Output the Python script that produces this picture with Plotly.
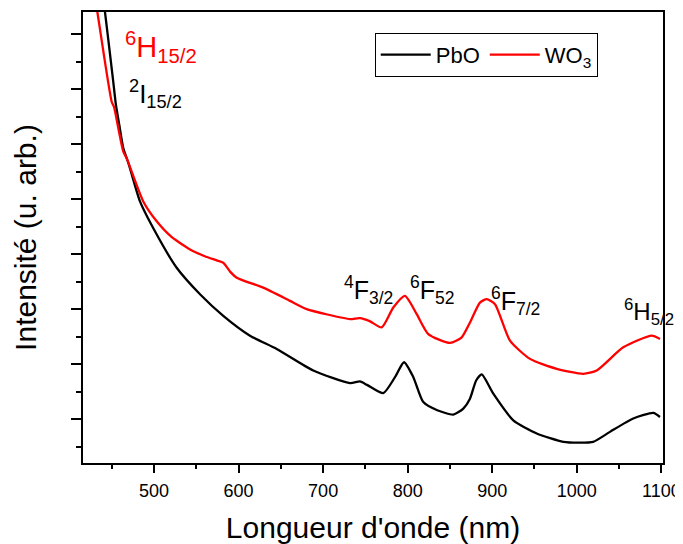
import plotly.graph_objects as go

# Wavelength (nm) and intensity (arbitrary units)
pbo_nm = [440, 442, 451.8, 455, 459, 463.7, 470, 483.4, 503.2, 526.8, 554.4, 581.9,
          613.5, 645.1, 688.4, 731.9, 743.6, 752, 771.2, 785, 795.7, 806.7, 818.5,
          835, 854, 865.8, 873.7, 881, 887.6, 901.3, 924.9, 952.6, 984.1, 1003,
          1019.5, 1039.3, 1066.8, 1090.5, 1098.4]
pbo_int = [8.43, 8.2, 6.93, 6.505, 6.14, 5.72, 5.44, 4.756, 4.154, 3.55, 3.069, 2.676,
           2.315, 2.074, 1.682, 1.452, 1.483, 1.42, 1.271, 1.561, 1.832, 1.561, 1.108,
           0.96, 0.881, 0.989, 1.17, 1.5, 1.61, 1.26, 0.777, 0.537, 0.385, 0.37,
           0.385, 0.566, 0.808, 0.91, 0.837]

wo3_nm = [431, 433, 450, 452.7, 458, 463.7, 467.7, 487.3, 503.2, 520, 542.6, 560,
          574.1, 581.9, 590, 597.8, 629.2, 660.8, 680.6, 705, 731.9, 743.6, 755,
          769.3, 783, 796.8, 810.7, 824.4, 850.1, 863.9, 873.7, 885.5, 893.5, 903.3,
          921, 944.7, 976.3, 1007.7, 1023.6, 1055, 1088.6, 1098.4]
wo3_int = [8.39, 8.2, 6.564, 6.474, 6.07, 5.66, 5.539, 4.756, 4.394, 4.12, 3.882, 3.76,
           3.684, 3.64, 3.48, 3.369, 3.188, 2.948, 2.797, 2.7, 2.617, 2.635, 2.58,
           2.465, 2.826, 3.038, 2.707, 2.345, 2.183, 2.284, 2.555, 2.917, 2.979, 2.888,
           2.224, 1.893, 1.712, 1.622, 1.682, 2.103, 2.315, 2.255]

series_names = ["PbO", "WO<sub>3</sub>"]

labels = ["<sup>6</sup>H<sub>15/2</sub>", "<sup>2</sup>I<sub>15/2</sub>",
          "<sup>4</sup>F<sub>3/2</sub>", "<sup>6</sup>F<sub>52</sub>",
          "<sup>6</sup>F<sub>7/2</sub>", "<sup>6</sup>H<sub>5/2</sub>"]
label_nm = [463.5, 467.5, 722.5, 800.0, 896.5, 1053.5]
label_int = [7.56, 6.71, 3.15, 3.15, 2.95, 2.75]
label_colors = ["#ff0000", "#000000", "#000000", "#000000", "#000000", "#000000"]
label_sizes = [29, 26, 25, 25, 25, 24]

FONT = "Liberation Sans, Arial, sans-serif"

fig = go.Figure()
fig.add_trace(go.Scatter(x=pbo_nm, y=pbo_int, mode="lines", name=series_names[0],
                         line=dict(color="#000000", width=2.3, shape="spline", smoothing=0.6)))
fig.add_trace(go.Scatter(x=wo3_nm, y=wo3_int, mode="lines", name=series_names[1],
                         line=dict(color="#ff0000", width=2.3, shape="spline", smoothing=0.6)))

for t, xv, yv, c, s in zip(labels, label_nm, label_int, label_colors, label_sizes):
    fig.add_annotation(x=xv, y=yv, xref="x", yref="y", text=t, showarrow=False,
                       xanchor="left", yanchor="middle",
                       font=dict(family=FONT, size=s, color=c))

fig.update_layout(
    width=675, height=536,
    margin=dict(l=75, r=20, t=2, b=81),
    paper_bgcolor="white", plot_bgcolor="white",
    font=dict(family=FONT, color="black"),
    showlegend=True,
    legend=dict(orientation="h", x=0.503, y=0.954, xanchor="left", yanchor="top",
                bordercolor="black", borderwidth=1, bgcolor="white",
                font=dict(family=FONT, size=22), itemwidth=50,
                tracegroupgap=0),
)
fig.update_xaxes(
    range=[416, 1102], showgrid=False, zeroline=False,
    showline=True, linecolor="black", linewidth=1.5, mirror=True,
    ticks="outside", ticklen=8, tickwidth=1.5, tickcolor="black",
    tick0=500, dtick=100, ticklabelstandoff=3,
    minor=dict(ticks="outside", ticklen=4, tickwidth=1.5, tickcolor="black", dtick=50, tick0=450),
    tickfont=dict(family=FONT, size=18),
    title=dict(text="Longueur d'onde (nm)", font=dict(family=FONT, size=30), standoff=18),
)
fig.update_yaxes(
    range=[0, 8.2], showgrid=False, zeroline=False,
    showline=True, linecolor="black", linewidth=1.5, mirror=True,
    ticks="outside", ticklen=10, tickwidth=1.5, tickcolor="black",
    tick0=0.7957, dtick=1, showticklabels=False,
    minor=dict(ticks="outside", ticklen=5, tickwidth=1.5, tickcolor="black", dtick=0.5, tick0=0.2957),
    title=dict(text="Intensité (u. arb.)", font=dict(family=FONT, size=30), standoff=26),
)

fig.write_html("out.html")
